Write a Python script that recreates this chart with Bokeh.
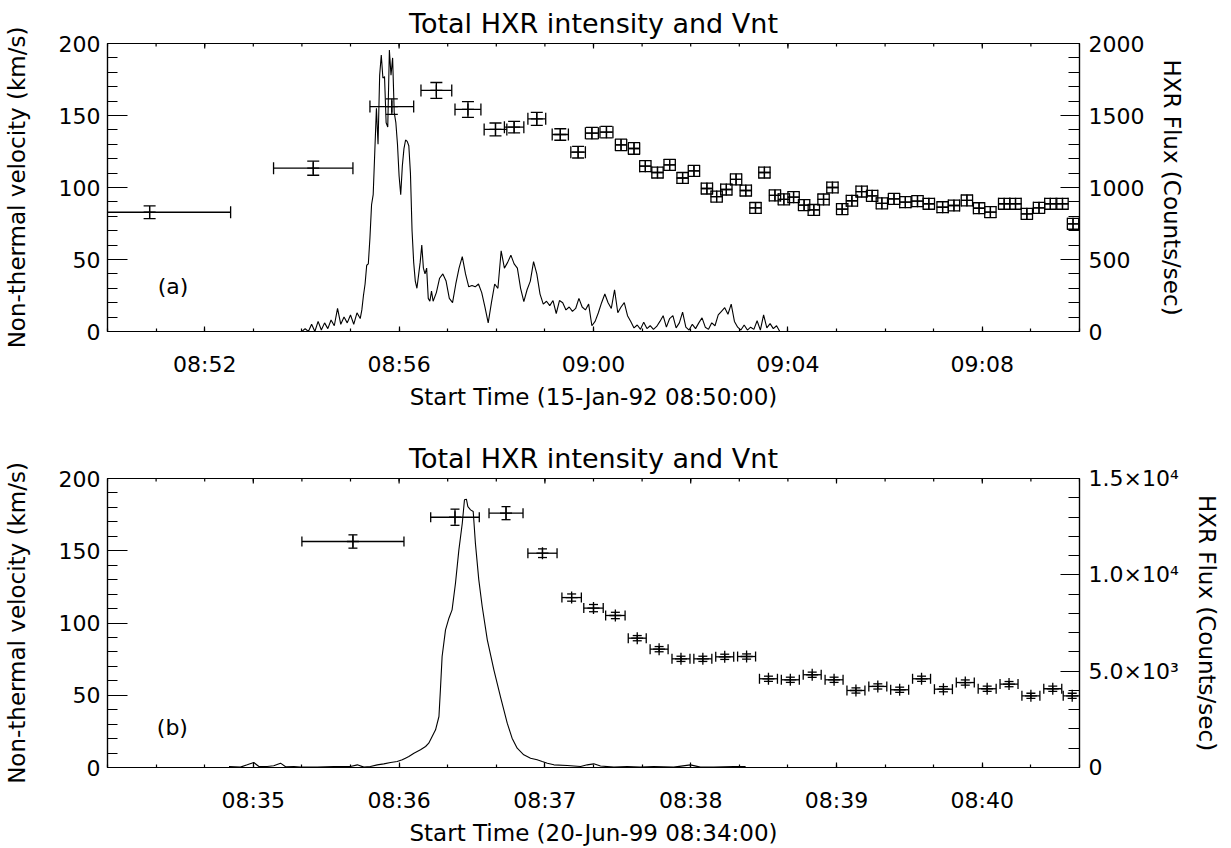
import numpy as np
from bokeh.plotting import figure
from bokeh.models import Range1d, LinearAxis, FixedTicker, Label
from bokeh.layouts import column
from bokeh.embed import file_html
from bokeh.resources import INLINE

FONT = "DejaVu Sans"

# ---------------- Panel (a): 15-Jan-92 ----------------
a_title = "Total HXR intensity and Vnt"
a_xlabel = "Start Time (15-Jan-92 08:50:00)"
a_xend = 1200  # seconds after 08:50:00
a_tick_sec = [120, 360, 600, 840, 1080]
a_tick_lab = ["08:52", "08:56", "09:00", "09:04", "09:08"]
a_minor_sec = [0, 60, 120, 180, 240, 300, 360, 420, 480, 540, 600, 660, 720,
               780, 840, 900, 960, 1020, 1080, 1140, 1200]

# Vnt measurements: bin centre (s), half bin width (s), velocity, error
a_vt = [52, 254, 351, 406, 445, 479, 502, 530, 559, 581,
        598, 616, 634, 650, 664, 679, 694, 710, 724, 740,
        752, 764, 776, 788, 800, 811, 824, 835, 847, 860,
        872, 884, 895, 907, 919, 931, 944, 956, 971, 985,
        1000, 1014, 1031, 1045, 1061, 1076, 1090, 1107, 1121, 1135,
        1150, 1164, 1179, 1192]
a_v = [82.8, 113.4, 156.2, 167.4, 154.2, 140.3, 141.9, 147.7, 136.8, 124.5,
       137.7, 138.4, 129.6, 127.1, 114.8, 110.4, 115.7, 106.6, 111.5, 99.3,
       93.7, 98.6, 105.6, 97.9, 85.8, 110.4, 94.5, 91.8, 93.3, 87.8,
       84.4, 91.7, 100.0, 85.0, 90.8, 97.2, 94.2, 89.0, 92.1, 89.8,
       90.5, 88.7, 86.3, 87.5, 91.0, 85.6, 82.9, 88.7, 88.7, 81.7,
       85.9, 88.7, 88.7, 74.8]
a_dt = [100, 49, 27, 19, 16, 14, 12, 11, 10, 9,
        8, 8, 7, 7, 7, 7, 7, 7, 7, 7,
        7, 7, 7, 7, 7, 7, 7, 7, 7, 7,
        7, 7, 7, 7, 7, 7, 7, 7, 7, 7,
        7, 7, 7, 7, 7, 7, 7, 7, 7, 7,
        7, 7, 7, 7]
a_dv = [4.4, 4.9, 5.4, 5.5, 5.5, 4.5, 4.0, 4.5, 4.0, 4.0,
        4.0, 4.0, 4.0, 4.0, 3.8, 3.8, 3.8, 3.8, 3.8, 3.8,
        3.8, 3.8, 3.8, 3.8, 3.8, 3.8, 3.8, 3.8, 3.8, 3.8,
        3.8, 3.8, 3.8, 3.8, 3.8, 3.8, 3.8, 3.8, 3.8, 3.8,
        3.8, 3.8, 3.8, 3.8, 3.8, 3.8, 3.8, 3.8, 3.8, 3.8,
        3.8, 3.8, 3.8, 3.8]

# HXR light curve (s after 08:50:00, counts/sec)
a_hxr_t = [240, 244, 248, 252, 256, 260, 264, 268, 272, 276,
           280, 284, 288, 292, 296, 300, 304, 308,
           312, 314, 316, 318, 320, 322, 324, 326, 328, 330,
           332, 334, 336, 338, 340, 342, 344, 346, 348, 350,
           352, 354, 356, 358, 360, 362, 364, 366, 368, 370,
           372, 374, 376, 378, 380, 382, 384, 386, 388, 390,
           392, 394, 396, 398, 400,
           402, 406, 410, 414, 418, 422, 426, 430, 434, 438,
           442, 446, 450, 454, 458, 462, 466, 470, 474, 478,
           482, 486, 490, 494, 498, 502, 506, 510, 514, 518,
           522, 526, 530, 534, 538, 542, 546, 550, 554, 558,
           562, 566, 570, 574, 578, 582, 586, 590, 594, 598,
           602, 606, 610, 614, 618, 622, 626, 630, 634, 638,
           642, 646, 650, 654, 658, 662, 666, 670, 674, 678,
           682, 686, 690, 694, 698, 702, 706, 710, 714, 718,
           722, 726, 730, 734, 738, 742, 746, 750, 754, 758,
           762, 766, 770, 774, 778, 782, 786, 790, 794, 798,
           802, 806, 810, 814, 818, 822, 826, 830]
a_hxr_f = [0, 20, 0, 50, 0, 70, 10, 60, 20, 80,
           40, 160, 50, 100, 60, 115, 50, 130,
           90, 150, 250, 330, 460, 470, 650, 880, 950, 1250,
           1550, 1300, 1780, 1920, 1760, 1770, 1450, 1420, 1955, 1780,
           1900, 1520, 1450, 1300, 1080, 950, 1150, 1270, 1330, 1320,
           1290, 1100, 700, 480, 350, 300, 390, 480, 600, 440,
           400, 440, 230, 210, 280,
           210, 270, 370, 400, 350, 230, 200, 330, 440, 520,
           400, 310, 320, 310, 330, 270, 170, 60, 200, 330,
           300, 560, 440, 480, 530, 470, 440, 300, 207, 290,
           350, 485, 400, 260, 190, 210, 180, 215, 125, 215,
           200, 150, 170, 140, 160, 230, 170, 150, 190, 40,
           70, 130, 200, 260, 200, 160, 290, 130, 170, 200,
           110, 70, 25, 45, 15, 65, 20, 40, 15, 35,
           70, 110, 30, 90, 110, 25, 60, 135, 30, 10,
           50, 20, 60, 95, 30, 15, 60, 40, 115, 140,
           165, 120, 190, 70, 30, 10, 45, 10, 30, 15,
           75, 10, 115, 25, 55, 20, 40, 0]

# ---------------- Panel (b): 20-Jun-99 ----------------
b_title = "Total HXR intensity and Vnt"
b_xlabel = "Start Time (20-Jun-99 08:34:00)"
b_xend = 400  # seconds after 08:34:00
b_tick_sec = [60, 120, 180, 240, 300, 360]
b_tick_lab = ["08:35", "08:36", "08:37", "08:38", "08:39", "08:40"]
b_minor_sec = [0, 20, 40, 60, 80, 100, 120, 140, 160, 180, 200, 220, 240,
               260, 280, 300, 320, 340, 360, 380, 400]

b_vt = [101, 143, 164, 179, 191, 200, 209, 218, 227, 236,
        245, 254, 263, 272, 281, 290, 299, 308, 317, 326,
        335, 344, 353, 362, 371, 380, 389, 397]
b_v = [156.4, 173.2, 176.0, 148.3, 117.6, 110.3, 105.2, 89.5, 81.9, 75.2,
       75.2, 76.6, 76.8, 61.4, 60.7, 64.2, 60.7, 53.3, 56.1, 53.8,
       61.4, 54.2, 58.8, 54.5, 57.7, 49.6, 54.5, 49.6]
b_dt = [21, 10, 7, 6, 4, 4, 4, 3.7, 3.7, 3.7,
        3.7, 3.7, 3.7, 3.7, 3.7, 3.7, 3.7, 3.7, 3.7, 3.7,
        3.7, 3.7, 3.7, 3.7, 3.7, 3.7, 3.7, 3.7]
b_dv = [4.6, 5.6, 4.5, 3.0, 2.5, 2.5, 2.2, 1.8, 1.8, 1.8,
        1.8, 1.8, 1.8, 1.8, 1.8, 1.8, 1.8, 1.8, 1.8, 1.8,
        1.8, 1.8, 1.8, 1.8, 1.8, 1.8, 1.8, 1.8]

b_hxr_t = [50, 54.7, 57.5, 60.2, 62.3, 65.7, 68.4, 71.2, 73.3, 76.7,
           79.4, 86.3, 93.1, 100, 102.8, 105.5, 108.2, 111, 113.7, 116.5,
           119.2, 121.3, 122.6, 124, 126.1, 128.8, 130.9, 132.2, 133.6, 135,
           136.4, 137, 137.7, 139.1, 140.5, 141.8, 143.2, 144.6, 146, 146.9,
           147.7, 148.3, 149.4, 150.5, 151.4, 152.8, 154.2, 156.3, 159, 161.7,
           163.1, 164.5, 166.5, 168.6, 171.3, 174.1, 176.8, 178.9, 181, 183.7,
           189.2, 194.7, 197.4, 200.1, 202.9, 208.4, 213.9, 219.3, 224.8, 233,
           239.9, 244, 249.5, 257.7, 262.6]
b_hxr_f = [50, 20, 138, 259, 52, 52, 90, 225, 40, 52,
           20, 20, 52, 52, 138, 20, 52, 138, 190, 259,
           311, 398, 484, 571, 744, 918, 1090, 1262, 1609, 1956,
           2647, 4032, 5760, 7145, 7750, 8183, 9566, 11297, 12678, 13892,
           13927, 13544, 13373, 13285, 11640, 9740, 8355, 6627, 5070, 3684,
           2994, 2300, 1521, 1003, 657, 484, 398, 311, 225, 138,
           100, 52, 138, 190, 80, 20, 52, 20, 52, 20,
           138, 20, 20, 52, 52]

assert len(a_vt) == len(a_v) == len(a_dt) == len(a_dv)
assert len(a_hxr_t) == len(a_hxr_f)
assert len(b_vt) == len(b_v) == len(b_dt) == len(b_dv)
assert len(b_hxr_t) == len(b_hxr_f)

LW = 1.3


def style_axis(ax, maj_in, min_in, standoff=8):
    ax.axis_line_color = "black"
    ax.axis_line_width = 1.2
    ax.major_tick_line_color = "black"
    ax.minor_tick_line_color = "black"
    ax.major_tick_line_width = 1.2
    ax.minor_tick_line_width = 1.2
    ax.major_tick_in = maj_in
    ax.major_tick_out = 0
    ax.minor_tick_in = min_in
    ax.minor_tick_out = 0
    ax.major_label_text_font = FONT
    ax.major_label_text_font_size = "22px"
    ax.major_label_text_color = "black"
    ax.major_label_standoff = standoff
    ax.axis_label_text_font = FONT
    ax.axis_label_text_font_size = "23px"
    ax.axis_label_text_font_style = "normal"
    ax.axis_label_text_color = "black"


def make_panel(title, xlabel, xend, maj_t, maj_lab, min_t,
               vt, v, dt, dv, capx, capy,
               ht, hf, hend, hmaj, hlab, hmin,
               tag, tag_t, tag_v, fh, top_b, bot_b, right_standoff):
    p = figure(frame_width=972, frame_height=fh,
               x_range=Range1d(0, xend), y_range=Range1d(0, 200),
               output_backend="svg", toolbar_location=None,
               min_border_left=99, min_border_right=140,
               min_border_top=top_b, min_border_bottom=bot_b,
               background_fill_color="white", border_fill_color="white")
    p.grid.visible = False
    p.outline_line_color = "black"
    p.outline_line_width = 1.2

    p.title.text = title
    p.title.align = "center"
    p.title.text_font = FONT
    p.title.text_font_size = "27px"
    p.title.text_font_style = "normal"
    p.title.text_color = "black"

    xt = FixedTicker(ticks=maj_t, minor_ticks=min_t)
    xa = p.xaxis[0]
    xa.ticker = xt
    xa.major_label_overrides = {t: l for t, l in zip(maj_t, maj_lab)}
    xa.axis_label = xlabel
    style_axis(xa, 5, 3, standoff=20)
    xa.axis_label_standoff = 4

    # tick marks along the top edge of the frame (half of each mark is clipped)
    p.scatter(maj_t, [200] * len(maj_t), marker="dash", angle=np.pi / 2,
              size=10, line_color="black", line_width=1.2)
    p.scatter(min_t, [200] * len(min_t), marker="dash", angle=np.pi / 2,
              size=6, line_color="black", line_width=1.2)

    ya = p.yaxis[0]
    ya.ticker = FixedTicker(ticks=[0, 50, 100, 150, 200],
                            minor_ticks=[0, 10, 20, 30, 40, 50, 60, 70, 80, 90, 100,
                                         110, 120, 130, 140, 150, 160, 170, 180, 190, 200])
    ya.axis_label = "Non-thermal velocity (km/s)"
    style_axis(ya, 20, 10, standoff=7)
    ya.axis_label_standoff = 26

    p.extra_y_ranges = {"hxr": Range1d(0, hend)}
    ra = LinearAxis(y_range_name="hxr",
                    ticker=FixedTicker(ticks=hmaj, minor_ticks=hmin),
                    axis_label="HXR Flux (Counts/sec)")
    if hlab is not None:
        ra.major_label_overrides = {t: l for t, l in zip(hmaj, hlab)}
    style_axis(ra, 19, 11, standoff=9)
    ra.axis_label_standoff = right_standoff
    p.add_layout(ra, "right")

    # HXR light curve
    p.line(ht, hf, y_range_name="hxr", line_color="black", line_width=1.1)

    # Vnt with error bars
    vt = np.array(vt, dtype=float)
    v = np.array(v, dtype=float)
    dt = np.array(dt, dtype=float)
    dv = np.array(dv, dtype=float)
    p.segment(x0=vt - dt, y0=v, x1=vt + dt, y1=v, line_color="black", line_width=LW)
    p.segment(x0=vt, y0=v - dv, x1=vt, y1=v + dv, line_color="black", line_width=LW)
    p.scatter(vt, v + dv, marker="dash", size=capy, line_color="black", line_width=LW)
    p.scatter(vt, v - dv, marker="dash", size=capy, line_color="black", line_width=LW)
    p.scatter(vt - dt, v, marker="dash", size=capx, angle=np.pi / 2,
              line_color="black", line_width=LW)
    p.scatter(vt + dt, v, marker="dash", size=capx, angle=np.pi / 2,
              line_color="black", line_width=LW)
    p.scatter(vt, v, marker="cross", size=12, line_color="black", line_width=LW)

    p.add_layout(Label(x=tag_t, y=tag_v, text=tag, text_font=FONT,
                       text_font_size="22px", text_align="center",
                       text_baseline="middle", text_color="black"))
    return p


p1 = make_panel(a_title, a_xlabel, a_xend, a_tick_sec, a_tick_lab, a_minor_sec,
                a_vt, a_v, a_dt, a_dv, 12, 12,
                a_hxr_t, a_hxr_f, 2000,
                [0, 500, 1000, 1500, 2000], None,
                [0, 100, 200, 300, 400, 500, 600, 700, 800, 900, 1000, 1100, 1200,
                 1300, 1400, 1500, 1600, 1700, 1800, 1900, 2000],
                "(a)", 81, 31.5, 288, 40, 104, 12)

p2 = make_panel(b_title, b_xlabel, b_xend, b_tick_sec, b_tick_lab, b_minor_sec,
                b_vt, b_v, b_dt, b_dv, 10, 9,
                b_hxr_t, b_hxr_f, 15000,
                [0, 5000, 10000, 15000],
                ["0", "5.0×10³", "1.0×10⁴", "1.5×10⁴"],
                [0, 1000, 2000, 3000, 4000, 5000, 6000, 7000, 8000, 9000, 10000,
                 11000, 12000, 13000, 14000, 15000],
                "(b)", 26.7, 28, 289, 42, 68, 12)

layout = column(p1, p2)
open("out.html", "w").write(file_html(layout, INLINE))
